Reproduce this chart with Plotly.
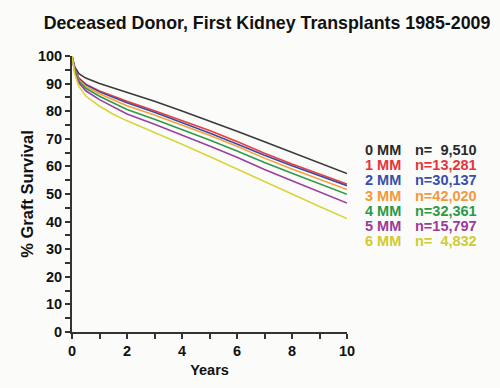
import plotly.graph_objects as go

years = [0, 0.1, 0.25, 0.5, 1, 1.5, 2, 3, 4, 5, 6, 7, 8, 9, 10]

mm0 = [100, 96.0, 93.6, 92.0, 90.0, 88.4, 86.9, 83.6, 80.1, 76.5, 72.7, 68.9, 65.1, 61.2, 57.4]
mm1 = [100, 95.2, 92.0, 89.8, 87.3, 85.4, 83.6, 80.2, 76.7, 73.0, 69.0, 64.8, 60.9, 57.2, 53.6]
mm2 = [100, 95.0, 91.8, 89.6, 87.0, 85.0, 83.1, 79.6, 75.9, 72.1, 68.1, 64.0, 60.2, 56.6, 53.0]
mm3 = [100, 94.8, 91.4, 89.0, 86.3, 84.1, 82.0, 78.6, 75.0, 71.3, 67.3, 63.0, 59.1, 55.3, 51.6]
mm4 = [100, 94.5, 90.9, 88.3, 85.4, 83.0, 80.6, 77.1, 73.4, 69.6, 65.6, 61.4, 57.5, 53.7, 49.9]
mm5 = [100, 94.2, 90.3, 87.4, 84.2, 81.6, 79.0, 75.3, 71.4, 67.4, 63.3, 58.9, 54.8, 50.8, 46.7]
mm6 = [100, 93.5, 89.0, 85.5, 81.8, 78.9, 76.5, 72.3, 68.0, 63.6, 59.0, 54.4, 50.0, 45.5, 41.1]

series_labels = ["0 MM", "1 MM", "2 MM", "3 MM", "4 MM", "5 MM", "6 MM"]
n_labels = ["n=\u00a0\u00a09,510", "n=13,281", "n=30,137", "n=42,020",
            "n=32,361", "n=15,797", "n=\u00a0\u00a04,832"]
series = [mm0, mm1, mm2, mm3, mm4, mm5, mm6]
line_colors = ["#3a3a3a", "#ee3b3b", "#3b4ba3", "#f6a03c", "#2f9a4a", "#9c3f9f", "#d9d43c"]
text_colors = ["#2a2a2a", "#e8333a", "#3750a8", "#f3993a", "#2a9a48", "#9b3b9b", "#cfcb30"]

fig = go.Figure()
for vals, col, lab in zip(series, line_colors, series_labels):
    fig.add_trace(go.Scatter(x=years, y=vals, mode="lines", name=lab,
                             line=dict(color=col, width=1.6), showlegend=False))

FONT = "Arial, 'Liberation Sans', Helvetica, sans-serif"
PLOT_W = 275.5

for i, (lab, nl, col) in enumerate(zip(series_labels, n_labels, text_colors)):
    yv = (65.9 - i * 5.5) / 100
    fig.add_annotation(x=(364 - 72) / PLOT_W, y=yv, xref="paper", yref="paper", text=lab,
                       showarrow=False, xanchor="left", yanchor="middle",
                       font=dict(family=FONT, size=14.5, color=col, weight="bold"))
    fig.add_annotation(x=(480 - 72) / PLOT_W, y=yv, xref="paper", yref="paper", text=nl,
                       showarrow=False, xanchor="right", yanchor="middle",
                       font=dict(family=FONT, size=14.5, color=col, weight="bold"))

fig.update_layout(
    width=500, height=388,
    margin=dict(l=72, r=152.5, t=55.7, b=56.3),
    paper_bgcolor="#fbfcf9", plot_bgcolor="#fbfcf9",
    title=dict(text="Deceased Donor, First Kidney Transplants 1985-2009",
               xref="paper", x=((42 + 492.7) / 2 - 72) / PLOT_W, xanchor="center",
               yref="container", y=1 - 23 / 388, yanchor="middle",
               font=dict(family=FONT, size=17.8, color="#111", weight="bold")),
    showlegend=False,
)

fig.update_xaxes(range=[0, 10], tickmode="linear", tick0=0, dtick=2,
                 ticks="outside", ticklen=5, tickwidth=1.5, tickcolor="#333",
                 minor=dict(dtick=1, ticks="outside", ticklen=5, tickwidth=1.5, tickcolor="#333"),
                 showline=True, linecolor="#333", linewidth=1.8, showgrid=False, zeroline=False,
                 tickfont=dict(family=FONT, size=14.5, color="#111", weight="bold"),
                 title=dict(text="Years", standoff=7,
                            font=dict(family=FONT, size=14.5, color="#111", weight="bold")))
fig.update_yaxes(range=[0, 100], tickmode="linear", tick0=0, dtick=10,
                 ticks="outside", ticklen=5, tickwidth=1.5, tickcolor="#333",
                 minor=dict(dtick=5, ticks="outside", ticklen=5, tickwidth=1.5, tickcolor="#333"),
                 showline=True, linecolor="#333", linewidth=1.8, showgrid=False, zeroline=False,
                 tickfont=dict(family=FONT, size=14.5, color="#111", weight="bold"),
                 title=dict(text="% Graft Survival", standoff=0,
                            font=dict(family=FONT, size=16.5, color="#111", weight="bold")))

fig.write_html("out.html", config={"displayModeBar": False},
               post_script="document.body.style.margin='0';document.body.style.background='#fbfcf9';")
